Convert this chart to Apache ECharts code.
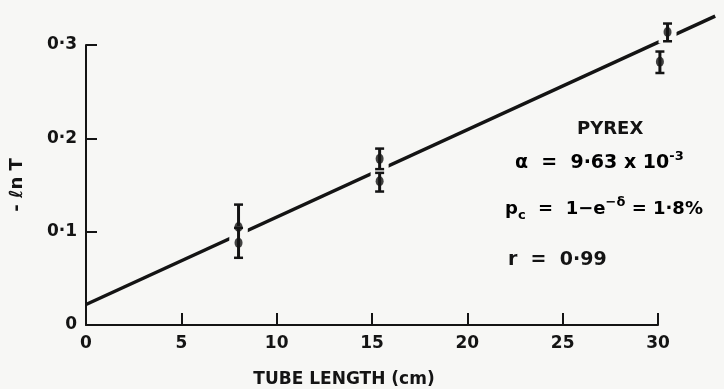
<!DOCTYPE html>
<html>
<head>
<meta charset="utf-8">
<script src="https://cdn.jsdelivr.net/npm/echarts@6/dist/echarts.min.js"></script>
<style>
	html, body { margin: 0; padding: 0; background: #f7f7f5; }
	#chart { width: 724px; height: 389px; }
</style>
</head>
<body>
<div id="chart"></div>
<script>
// measured points (tube length in cm, -ln T)
var pointX = [8, 8, 15.4, 15.4, 30.5, 30.1];
var pointY = [0.105, 0.088, 0.178, 0.154, 0.314, 0.282];
// error bar ends
var errLow = [0.080, 0.072, 0.167, 0.143, 0.304, 0.270];
var errHigh = [0.129, 0.104, 0.189, 0.163, 0.323, 0.293];
// least squares fit line end points
var fitX = [0, 33];
var fitY = [0.022, 0.331];
// tick labels
var xTicks = ['0', '5', '10', '15', '20', '25', '30'];
var yTicks = ['0', '0·1', '0·2', '0·3'];

var font = 'DejaVu Sans';
var ink = '#141414';
var paper = '#f7f7f5';

var chart = echarts.init(document.getElementById('chart'));

var points = pointX.map(function(x, i) { return [x, pointY[i]]; });
var bars = pointX.map(function(x, i) { return [x, errLow[i], errHigh[i]]; });
var fit = [[fitX[0], fitY[0], fitX[1], fitY[1]]];

chart.setOption({
	backgroundColor: paper,
	animation: false,
	grid: {
		left: 86,
		right: 66,
		top: 45,
		bottom: 64,
		containLabel: false,
		outerBoundsMode: 'none'
	},
	xAxis: {
		type: 'value',
		min: 0,
		max: 30,
		interval: 5,
		name: 'TUBE LENGTH (cm)',
		nameLocation: 'middle',
		nameGap: 46,
		nameTextStyle: { fontFamily: font, fontSize: 17, fontWeight: 'bold', color: ink, padding: [0, 56, 0, 0] },
		axisLine: { lineStyle: { color: ink, width: 2 } },
		axisTick: { inside: true, length: 12, lineStyle: { color: ink, width: 2 } },
		axisLabel: {
			margin: 10,
			fontFamily: font,
			fontSize: 17,
			fontWeight: 'bold',
			color: ink,
			formatter: function(v) { return xTicks[v / 5]; }
		},
		splitLine: { show: false }
	},
	yAxis: {
		type: 'value',
		min: 0,
		max: 0.3,
		interval: 0.1,
		name: '- ℓn T',
		nameLocation: 'middle',
		nameGap: 60,
		nameRotate: 90,
		nameTextStyle: { fontFamily: font, fontSize: 18, fontWeight: 'bold', color: ink },
		axisLine: { lineStyle: { color: ink, width: 2 } },
		axisTick: { inside: true, length: 11, lineStyle: { color: ink, width: 2 } },
		axisLabel: {
			margin: 9,
			fontFamily: font,
			fontSize: 17,
			fontWeight: 'bold',
			color: ink,
			formatter: function(v) { return yTicks[Math.round(v * 10)]; }
		},
		splitLine: { show: false }
	},
	series: [
		{
			// fit line, runs past the end of the axis
			type: 'custom',
			data: fit,
			clip: false,
			z: 2,
			renderItem: function(params, api) {
				var a = api.coord([api.value(0), api.value(1)]);
				var b = api.coord([api.value(2), api.value(3)]);
				return {
					type: 'line',
					shape: { x1: a[0], y1: a[1], x2: b[0], y2: b[1] },
					style: { stroke: ink, lineWidth: 3.5 }
				};
			}
		},
		{
			// error bars, with white gap in the fit line
			type: 'custom',
			data: bars,
			clip: false,
			z: 3,
			renderItem: function(params, api) {
				var top = api.coord([api.value(0), api.value(2)]);
				var bot = api.coord([api.value(0), api.value(1)]);
				var x = top[0];
				return {
					type: 'group',
					children: [
						{
							type: 'rect',
							shape: { x: x - 9, y: top[1] - 2, width: 18, height: bot[1] - top[1] + 4 },
							style: { fill: paper }
						},
						{
							type: 'line',
							shape: { x1: x, y1: top[1], x2: x, y2: bot[1] },
							style: { stroke: ink, lineWidth: 3 }
						},
						{
							type: 'line',
							shape: { x1: x - 4.5, y1: top[1], x2: x + 4.5, y2: top[1] },
							style: { stroke: ink, lineWidth: 2.5 }
						},
						{
							type: 'line',
							shape: { x1: x - 4.5, y1: bot[1], x2: x + 4.5, y2: bot[1] },
							style: { stroke: ink, lineWidth: 2.5 }
						}
					]
				};
			}
		},
		{
			// data points
			type: 'scatter',
			data: points,
			clip: false,
			symbol: 'circle',
			symbolSize: [8, 10],
			itemStyle: { color: ink },
			z: 4
		}
	],
	graphic: [
		{
			type: 'text',
			left: 577,
			top: 120,
			style: { text: 'PYREX', fontFamily: font, fontSize: 18, fontWeight: 'bold', fill: ink }
		},
		{
			type: 'text',
			left: 515,
			top: 150,
			style: {
				text: '{b|α  =  9·63 x 10}{s|-3}',
				rich: {
					b: { fontFamily: font, fontSize: 19, fontWeight: 'bold', color: ink },
					s: { fontFamily: font, fontSize: 13, fontWeight: 'bold', color: ink, padding: [0, 0, 14, 0] }
				}
			}
		},
		{
			type: 'text',
			left: 505,
			top: 196,
			style: {
				text: '{b|p}{sub|c}{b|  =  1−e}{s|−δ}{b| = 1·8%}',
				rich: {
					b: { fontFamily: font, fontSize: 18, fontWeight: 'bold', color: ink },
					sub: { fontFamily: font, fontSize: 13, fontWeight: 'bold', color: ink, padding: [12, 0, 0, 0] },
					s: { fontFamily: font, fontSize: 13, fontWeight: 'bold', color: ink, padding: [0, 0, 14, 0] }
				}
			}
		},
		{
			type: 'text',
			left: 508,
			top: 251,
			style: { text: 'r  =  0·99', fontFamily: font, fontSize: 19, fontWeight: 'bold', fill: ink }
		}
	]
});
</script>
</body>
</html>
